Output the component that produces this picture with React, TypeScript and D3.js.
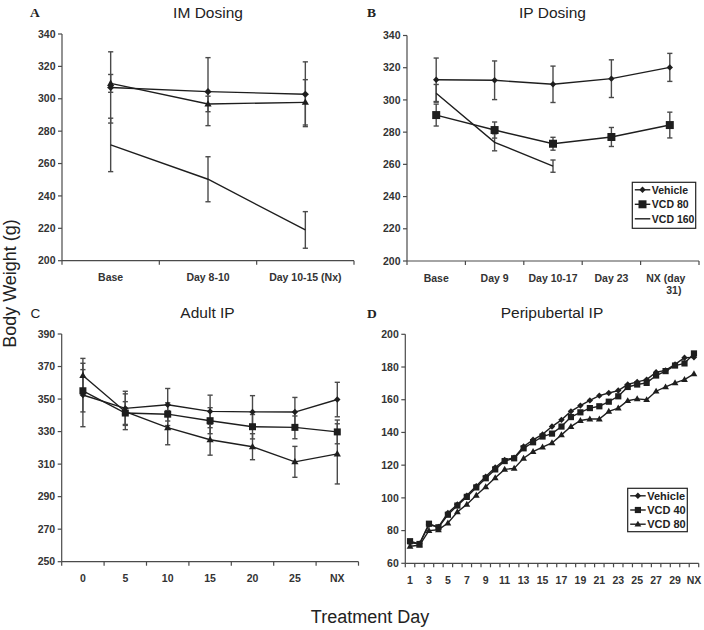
import React from 'react';
import * as d3 from 'd3';

// ---------- Data ----------
// Panel A: IM Dosing
const aCats = ['Base', 'Day 8-10', 'Day 10-15 (Nx)'];
const aVehicle = [307, 304.4, 302.8];
const aVehicleErr = [22, 21, 20];
const aVcd80 = [309.5, 296.8, 297.8];
const aVcd80Err = [5.5, 4.8, 14];
const aVcd160 = [271.5, 250.3, 219];
const aVcd160Err = [16.5, 13.9, 11.3];

// Panel B: IP Dosing
const bCats = ['Base', 'Day 9', 'Day 10-17', 'Day 23', 'NX (day 31)'];
const bVehicle = [312.5, 312.2, 309.7, 313.2, 320.2];
const bVehicleErr = [13.5, 12, 11.3, 11.7, 8.7];
const bVcd80 = [290.6, 281.3, 272.8, 277, 284.4];
const bVcd80Err = [6.8, 5, 4, 5.9, 8];
const bVcd160: (number | null)[] = [304.1, 273.7, 258.9, null, null];
const bVcd160Err: (number | null)[] = [5.5, 5.3, 3.8, null, null];

// Panel C: Adult IP
const cCats = ['0', '5', '10', '15', '20', '25', 'NX'];
const cVehicle = [352.5, 344.3, 346.5, 342.4, 342.1, 342, 349.7];
const cVehicleErr = [19.5, 10.5, 10, 10, 10, 9, 10.6];
const cSquare = [355.1, 341.4, 340.7, 336.7, 333, 332.6, 329.8];
const cSquareErr = [13, 7, 7, 8, 7.5, 7, 7.3];
const cTriangle = [364.5, 342.2, 332.4, 325, 320.7, 311.4, 316.3];
const cTriangleErr = [10.5, 11, 10.5, 9.5, 8, 9.5, 18.5];

// Panel D: Peripubertal IP
const dCats = ['1','2','3','4','5','6','7','8','9','10','11','12','13','14','15','16','17','18','19','20','21','22','23','24','25','26','27','28','29','30','NX'];
const dVehicle = [72.5, 72, 83.6, 82.2, 90.8, 96, 101.4, 107.2, 113, 118.6, 123.2, 124.6, 131.4, 135.5, 138.8, 143.6, 147.7, 152.9, 156.4, 159.6, 162.5, 164.1, 165.6, 169.3, 170.9, 172.3, 176.8, 177.9, 181.6, 185.7, 185.9];
const dVcd40 = [73.5, 71.8, 84.2, 82, 89.7, 95.3, 100.6, 106.4, 112, 117.4, 122.5, 124.2, 130.3, 134, 137.5, 139.3, 143.6, 149.4, 152.3, 154.9, 156, 158.8, 162.1, 167.8, 169.3, 170.3, 174.8, 177.5, 180.9, 182.2, 188.3];
const dVcd80 = [70.4, 71, 80, 80.5, 84.6, 91.4, 96, 101.6, 106.8, 112.3, 117.4, 118, 124.2, 128.3, 131, 133.6, 138.5, 143.6, 147.3, 148.2, 148.2, 152.9, 154.9, 159.4, 160.5, 160, 165.2, 167.8, 170.3, 172.3, 175.8];

const abTicks = [200, 220, 240, 260, 280, 300, 320, 340];
const cTicks = [250, 270, 290, 310, 330, 350, 370, 390];
const dTicks = [60, 80, 100, 120, 140, 160, 180, 200];

// ---------- Drawing ----------
type Marker = 'diamond' | 'square' | 'triangle' | 'none';
interface Series {
  label: string;
  values: (number | null)[];
  errs?: (number | null)[];
  marker: Marker;
  size: number;
}

const SANS = 'Liberation Sans, Arial, Helvetica, sans-serif';
const LINE = '#1e1e1e';
const ERR = '#4a4a4a';
const AXIS = '#4a4a4a';

function markerPath(m: Marker, r: number): string {
  if (m === 'diamond') return `M0,${-r}L${r},0L0,${r}L${-r},0Z`;
  if (m === 'square') return `M${-r},${-r}H${r}V${r}H${-r}Z`;
  if (m === 'triangle') return `M0,${-r * 1.05}L${r},${r * 0.7}L${-r},${r * 0.7}Z`;
  return '';
}

interface PanelProps {
  left: number; right: number; top: number; bottom: number;
  domain: [number, number];
  ticks: number[];
  cats: string[];
  series: Series[];
  labelFilter?: (i: number) => boolean;
  splitLast?: boolean;
  tickFont?: number;
}

function Panel(p: PanelProps) {
  const x = d3.scaleBand<string>().domain(p.cats).range([p.left, p.right]).padding(0);
  const y = d3.scaleLinear().domain(p.domain).range([p.bottom, p.top]);
  const cx = (c: string) => (x(c) as number) + x.bandwidth() / 2;
  const tf = p.tickFont ?? 10.5;
  const boundaries = [...p.cats.map((c) => x(c) as number), p.right];
  const cap = 2.6;
  return (
    <g>
      {/* axes */}
      <line x1={p.left} x2={p.left} y1={p.top} y2={p.bottom} stroke={AXIS} strokeWidth={1.2} />
      <line x1={p.left} x2={p.right} y1={p.bottom} y2={p.bottom} stroke={AXIS} strokeWidth={1.2} />
      {p.ticks.map((t) => (
        <g key={t}>
          <line x1={p.left - 4} x2={p.left} y1={y(t)} y2={y(t)} stroke={AXIS} strokeWidth={1.2} />
          <text x={p.left - 6.5} y={y(t)} dy="0.35em" textAnchor="end" fontFamily={SANS} fontWeight="bold" fontSize={tf} fill="#333">{t}</text>
        </g>
      ))}
      {boundaries.map((b, i) => (
        <line key={i} x1={b} x2={b} y1={p.bottom} y2={p.bottom + 4} stroke={AXIS} strokeWidth={1.2} />
      ))}
      {p.cats.map((c, i) => {
        if (p.labelFilter && !p.labelFilter(i)) return null;
        if (p.splitLast && i === p.cats.length - 1) {
          const parts = c.split(' ');
          return (
            <text key={c} x={cx(c)} y={p.bottom + 20.5} textAnchor="middle" fontFamily={SANS} fontWeight="bold" fontSize={tf} fill="#333">
              <tspan x={cx(c) - 4}>{parts.slice(0, 2).join(' ')}</tspan>
              <tspan x={cx(c) + 4} dy={12.5}>{parts.slice(2).join(' ')}</tspan>
            </text>
          );
        }
        return (
          <text key={c} x={cx(c)} y={p.bottom + 20.5} textAnchor="middle" fontFamily={SANS} fontWeight="bold" fontSize={tf} fill="#333">{c}</text>
        );
      })}
      {/* error bars */}
      {p.series.map((s, si) => (
        <g key={'e' + si}>
          {s.errs && s.values.map((v, i) => {
            const e = s.errs![i];
            if (v == null || e == null) return null;
            const X = cx(p.cats[i]);
            const y1 = y(v + e), y2 = y(v - e);
            return (
              <g key={i} stroke={ERR} strokeWidth={1.4}>
                <line x1={X} x2={X} y1={y1} y2={y2} />
                <line x1={X - cap} x2={X + cap} y1={y1} y2={y1} />
                <line x1={X - cap} x2={X + cap} y1={y2} y2={y2} />
              </g>
            );
          })}
        </g>
      ))}
      {/* lines */}
      {p.series.map((s, si) => {
        const line = d3.line<[string, number | null]>()
          .defined((d) => d[1] != null)
          .x((d) => cx(d[0]))
          .y((d) => y(d[1] as number));
        const pts: [string, number | null][] = p.cats.map((c, i) => [c, s.values[i]]);
        return <path key={'l' + si} d={line(pts) || ''} fill="none" stroke={LINE} strokeWidth={1.4} />;
      })}
      {/* markers */}
      {p.series.map((s, si) => (
        <g key={'m' + si}>
          {s.marker !== 'none' && s.values.map((v, i) => v == null ? null : (
            <path key={i} d={markerPath(s.marker, s.size)} transform={`translate(${cx(p.cats[i])},${y(v)})`} fill={LINE} />
          ))}
        </g>
      ))}
    </g>
  );
}

function Legend({ x, y, w, h, series, font, rowH }: { x: number; y: number; w: number; h: number; series: Series[]; font: number; rowH: number }) {
  return (
    <g>
      <rect x={x} y={y} width={w} height={h} fill="#fff" stroke="#222" strokeWidth={1.2} />
      {series.map((s, i) => {
        const cy = y + 7.5 + i * rowH;
        return (
          <g key={s.label}>
            <line x1={x + 2.5} x2={x + 18} y1={cy} y2={cy} stroke={LINE} strokeWidth={1.4} />
            {s.marker !== 'none' && <path d={markerPath(s.marker, s.size)} transform={`translate(${x + 10.2},${cy})`} fill={LINE} />}
            <text x={x + 19.5} y={cy} dy="0.36em" fontFamily={SANS} fontWeight="bold" fontSize={font} fill="#222">{s.label}</text>
          </g>
        );
      })}
    </g>
  );
}

export default function App() {
  const aSeries: Series[] = [
    { label: 'Vehicle', values: aVehicle, errs: aVehicleErr, marker: 'diamond', size: 3.6 },
    { label: 'VCD 80', values: aVcd80, errs: aVcd80Err, marker: 'triangle', size: 3.6 },
    { label: 'VCD 160', values: aVcd160, errs: aVcd160Err, marker: 'none', size: 0 },
  ];
  const bSeries: Series[] = [
    { label: 'Vehicle', values: bVehicle, errs: bVehicleErr, marker: 'diamond', size: 3.2 },
    { label: 'VCD 80', values: bVcd80, errs: bVcd80Err, marker: 'square', size: 4 },
    { label: 'VCD 160', values: bVcd160, errs: bVcd160Err, marker: 'none', size: 0 },
  ];
  const cSeries: Series[] = [
    { label: 'Vehicle', values: cVehicle, errs: cVehicleErr, marker: 'diamond', size: 3.2 },
    { label: 'VCD 80', values: cSquare, errs: cSquareErr, marker: 'square', size: 3.5 },
    { label: 'VCD 160', values: cTriangle, errs: cTriangleErr, marker: 'triangle', size: 3.6 },
  ];
  const dSeries: Series[] = [
    { label: 'Vehicle', values: dVehicle, marker: 'diamond', size: 3.2 },
    { label: 'VCD 40', values: dVcd40, marker: 'square', size: 3.1 },
    { label: 'VCD 80', values: dVcd80, marker: 'triangle', size: 3.4 },
  ];
  return (
    <svg width={704} height={630} viewBox="0 0 704 630" style={{ position: 'absolute', left: 0, top: 0, background: '#fff' }}>
      <rect x={0} y={0} width={704} height={630} fill="#fff" />
      {/* panel letters and titles */}
      <text x={30} y={17} fontFamily="Liberation Serif, Times New Roman, serif" fontWeight="bold" fontSize={13.5} fill="#222">A</text>
      <text x={208} y={17.5} textAnchor="middle" fontFamily={SANS} fontSize={15.5} fill="#222">IM Dosing</text>
      <text x={367} y={17} fontFamily="Liberation Serif, Times New Roman, serif" fontWeight="bold" fontSize={13.5} fill="#222">B</text>
      <text x={552.5} y={17.5} textAnchor="middle" fontFamily={SANS} fontSize={15.5} fill="#222">IP Dosing</text>
      <text x={30.5} y={317.5} fontFamily={SANS} fontSize={13.5} fill="#222">C</text>
      <text x={207.5} y={318} textAnchor="middle" fontFamily={SANS} fontSize={15.5} fill="#222">Adult IP</text>
      <text x={367} y={317.5} fontFamily="Liberation Serif, Times New Roman, serif" fontWeight="bold" fontSize={13.5} fill="#222">D</text>
      <text x={552} y={318} textAnchor="middle" fontFamily={SANS} fontSize={15.5} fill="#222">Peripubertal IP</text>

      <Panel left={62} right={354} top={34} bottom={260.7} domain={[200, 340]} ticks={abTicks} cats={aCats} series={aSeries} />
      <Panel left={407} right={699} top={35.5} bottom={261} domain={[200, 340]} ticks={abTicks} cats={bCats} series={bSeries} splitLast />
      <Panel left={61.7} right={358.5} top={334} bottom={561.7} domain={[250, 390]} ticks={cTicks} cats={cCats} series={cSeries} />
      <Panel left={405.3} right={698.7} top={334.3} bottom={563.3} domain={[60, 200]} ticks={dTicks} cats={dCats} series={dSeries} labelFilter={(i) => i % 2 === 0} />

      <Legend x={632.3} y={182.3} w={63.4} h={46} series={bSeries} font={10.5} rowH={14.5} />
      <Legend x={627.7} y={488.3} w={59.6} h={43.4} series={dSeries} font={11} rowH={14.2} />

      <text transform="translate(16,283.5) rotate(-90)" textAnchor="middle" fontFamily={SANS} fontSize={18} fill="#222">Body Weight (g)</text>
      <text x={370} y={623} textAnchor="middle" fontFamily={SANS} fontSize={18} fill="#222">Treatment Day</text>
    </svg>
  );
}
